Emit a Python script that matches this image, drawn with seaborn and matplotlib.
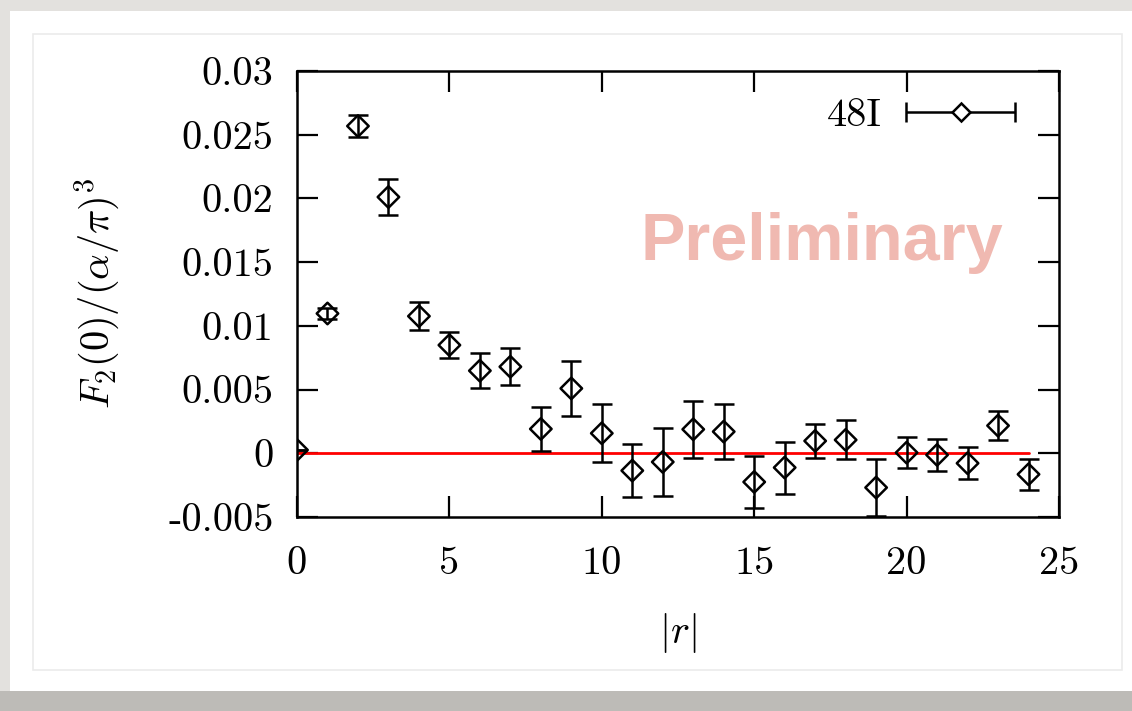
import numpy as np
import pandas as pd
import seaborn as sns
import matplotlib
matplotlib.use("Agg")
import matplotlib.pyplot as plt
from matplotlib.patches import Rectangle
from matplotlib.legend_handler import HandlerErrorbar
from matplotlib.container import ErrorbarContainer

# ---- data ----
r_vals = list(range(25))
f2_vals = [0.00026, 0.01097, 0.02568, 0.02011, 0.01076, 0.00849, 0.00648, 0.00679,
           0.00191, 0.00509, 0.00157, -0.00136, -0.00068, 0.00188, 0.00170, -0.00225,
           -0.00112, 0.00097, 0.00105, -0.00269, 0.00005, -0.00013, -0.00078, 0.00217,
           -0.00165]
f2_err = [0.00003, 0.00044, 0.00089, 0.00144, 0.00112, 0.00099, 0.00138, 0.00146,
          0.00175, 0.00217, 0.00227, 0.00208, 0.00264, 0.00222, 0.00213, 0.00205,
          0.00204, 0.00135, 0.00153, 0.00221, 0.00121, 0.00128, 0.00125, 0.00112,
          0.00124]
zero_x = [0, 24]
zero_y = [0.0, 0.0]
xticks = [0, 5, 10, 15, 20, 25]
xtick_labels = ["0", "5", "10", "15", "20", "25"]
yticks = [-0.005, 0.0, 0.005, 0.01, 0.015, 0.02, 0.025, 0.03]
ytick_labels = ["-0.005", "0", "0.005", "0.01", "0.015", "0.02", "0.025", "0.03"]
series_label = "48I"

df = pd.DataFrame({"r": r_vals, "F2": f2_vals, "err": f2_err})

sns.set_theme(style="ticks")
plt.rcParams["font.family"] = ["cmr10", "DejaVu Serif"]
plt.rcParams["mathtext.fontset"] = "cm"
plt.rcParams["axes.formatter.use_mathtext"] = True
plt.rcParams["axes.unicode_minus"] = False
plt.rcParams["text.color"] = "black"

fig = plt.figure(figsize=(11.32, 7.11), dpi=100)
fig.patch.set_facecolor("#e3e1de")
W, H = 1132, 711
# card background
fig.patches.append(Rectangle((0, 0), 1, 20 / H, transform=fig.transFigure,
                             facecolor="#bdbbb7", edgecolor="none", zorder=-3))
fig.patches.append(Rectangle((10 / W, 20 / H), 1, 1 - 31 / H, transform=fig.transFigure,
                             facecolor="white", edgecolor="none", zorder=-2))
fig.patches.append(Rectangle((33 / W, (H - 670) / H), (1122 - 33) / W, (670 - 34) / H,
                             transform=fig.transFigure, facecolor="none",
                             edgecolor="#ebebeb", lw=1.2, zorder=-1))

ax = fig.add_axes([297 / W, 1 - 517 / H, (1059 - 297) / W, (517 - 71) / H])
ax.set_facecolor("none")

sns.lineplot(x=zero_x, y=zero_y, ax=ax, color="red", lw=2.0, zorder=1)
ax.errorbar(df["r"], df["F2"], yerr=df["err"], fmt="none", ecolor="black",
            elinewidth=1.8, capsize=7.2, capthick=1.8, zorder=2)
sns.scatterplot(data=df, x="r", y="F2", ax=ax, marker="D", s=120,
                facecolor="none", edgecolor="black", linewidth=1.8, zorder=3)

# legend proxy: horizontal errorbar with diamond
proxy = ax.errorbar([np.nan], [np.nan], xerr=[1.0], fmt="D", ms=9, mfc="white",
                    mec="black", mew=1.8, ecolor="black", elinewidth=1.8,
                    capsize=7.2, capthick=1.8, label=series_label)
leg = ax.legend(handles=[proxy], labels=[series_label], loc="center right",
                bbox_to_anchor=((1015 - 297) / 762, 1 - (116 - 71) / 446),
                frameon=False, markerfirst=False, numpoints=1, fontsize=29,
                handlelength=2.7, handletextpad=0.6, borderpad=0, borderaxespad=0,
                handler_map={ErrorbarContainer: HandlerErrorbar(xerr_size=1.35)})
for t in leg.get_texts():
    t.set_color("black")

ax.set_xlim(0, 25)
ax.set_ylim(-0.005, 0.03)
ax.set_xticks(xticks)
ax.set_xticklabels(xtick_labels)
ax.set_yticks(yticks)
ax.set_yticklabels(ytick_labels)
ax.tick_params(axis="both", which="major", direction="in", length=15, width=1.6,
               labelsize=29, top=True, right=True, color="black", labelcolor="black")
ax.tick_params(axis="x", pad=21)
ax.tick_params(axis="y", pad=17)
for sp in ax.spines.values():
    sp.set_visible(True)
    sp.set_linewidth(1.8)
    sp.set_color("black")

ax.set_xlabel(r"$|r|$", fontsize=29, labelpad=21, color="black")
ax.set_ylabel(r"$F_2(0)/(\alpha/\pi)^3$", fontsize=29, labelpad=33, color="black")

ax.text((1003 - 297) / 762, 0.615, "Preliminary", transform=ax.transAxes, ha="right",
        va="center", fontsize=48, fontweight="bold", color="#f0b9b1",
        family="Liberation Sans", zorder=0)

fig.savefig("out.png", dpi=100, facecolor=fig.get_facecolor())
